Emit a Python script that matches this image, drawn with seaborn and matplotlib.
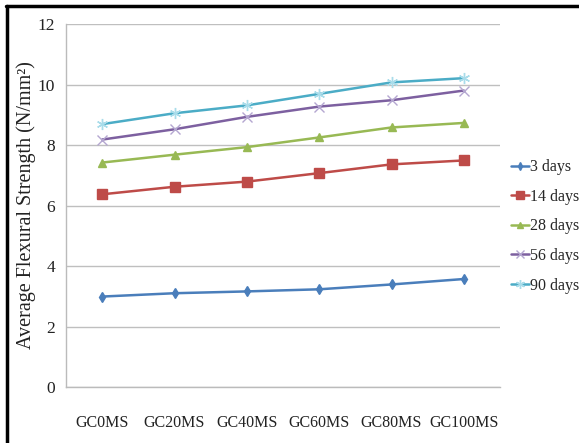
import matplotlib
matplotlib.use("Agg")
import matplotlib.pyplot as plt
from matplotlib.lines import Line2D
import numpy as np
import pandas as pd
import seaborn as sns

# Mix designs (share of manufactured sand)
mixes = ["GC0MS", "GC20MS", "GC40MS", "GC60MS", "GC80MS", "GC100MS"]

# Average flexural strength (N/mm²) per curing age
days_3 = [2.99, 3.10, 3.16, 3.23, 3.39, 3.57]
days_14 = [6.37, 6.62, 6.79, 7.07, 7.36, 7.49]
days_28 = [7.42, 7.68, 7.93, 8.25, 8.58, 8.73]
days_56 = [8.18, 8.52, 8.93, 9.27, 9.48, 9.80]
days_90 = [8.69, 9.05, 9.31, 9.69, 10.07, 10.21]

series_names = ["3 days", "14 days", "28 days", "56 days", "90 days"]
series_values = [days_3, days_14, days_28, days_56, days_90]

line_colors = ["#4A7EBB", "#BE4B48", "#98B954", "#7D60A0", "#4BACC6"]
marker_colors = ["#4A7EBB", "#BE4B48", "#98B954", "#B4A7D0", "#A9DCEA"]
markers = ["d", "s", "^", "x", (6, 2, 0)]
marker_sizes = [5, 7, 6, 7, 8]

rows = []
for name, vals in zip(series_names, series_values):
    for i, (m, v) in enumerate(zip(mixes, vals)):
        rows.append({"mix": m, "pos": i, "age": name, "strength": v})
df = pd.DataFrame(rows)

sns.set_style("white")
plt.rcParams["font.family"] = ["Liberation Serif", "DejaVu Serif"]

fig = plt.figure(figsize=(5.79, 4.43), dpi=100)
ax = fig.add_axes([0.114, 0.1264, 0.7496, 0.8194])

for name, lc, mc, mk, ms in zip(series_names, line_colors, marker_colors, markers, marker_sizes):
    sub = df[df["age"] == name]
    sns.lineplot(data=sub, x="pos", y="strength", ax=ax, color=lc, linewidth=1.8,
                 marker=mk, markersize=ms, markerfacecolor=mc, markeredgecolor=mc,
                 markeredgewidth=1.0, sort=False, legend=False)

ax.set_xlim(-0.5, 5.5)
ax.set_ylim(0, 12)
ax.set_yticks(np.arange(0, 13, 2))
ax.set_xticks(range(len(mixes)))
ax.set_xticklabels(mixes)
ax.set_xticks(np.arange(-0.5, 5.6, 1.0), minor=True)
ax.tick_params(axis="x", which="major", length=0, pad=20, labelsize=11.5, colors="#222222")
ax.tick_params(axis="x", which="minor", length=5, width=1.0, color="#BBBBBB", direction="out")
ax.tick_params(axis="y", which="major", length=5, width=1.0, color="#BBBBBB", direction="out",
               labelsize=12.5, colors="#222222", pad=3)
ax.yaxis.grid(True, color="#BFBFBF", linewidth=1.0)
ax.xaxis.grid(False)
ax.set_axisbelow(True)
for side in ["top", "right"]:
    ax.spines[side].set_visible(False)
for side in ["left", "bottom"]:
    ax.spines[side].set_color("#BBBBBB")
    ax.spines[side].set_linewidth(1.0)
ax.set_xlabel("")
ax.set_ylabel("Average Flexural Strength (N/mm²)", fontsize=14.5, color="#222222")
ax.yaxis.set_label_coords(-0.07, 0.5)

handles = [Line2D([0], [0], color=lc, linewidth=1.8, marker=mk, markersize=ms * 0.8,
                  markerfacecolor=mc, markeredgecolor=mc)
           for lc, mc, mk, ms in zip(line_colors, marker_colors, markers, marker_sizes)]
fig.legend(handles, series_names, loc="upper left", bbox_to_anchor=(0.872, 0.655),
           frameon=False, fontsize=11.5, handlelength=1.1, handletextpad=0.1,
           labelspacing=0.85, borderaxespad=0)

# Frame along the left and top edges of the figure
fig.add_artist(Line2D([0.0128, 0.0128], [0.0, 0.9865], transform=fig.transFigure,
                      color="black", linewidth=2.5))
fig.add_artist(Line2D([0.0105, 1.0], [0.9865, 0.9865], transform=fig.transFigure,
                      color="black", linewidth=2.5))

fig.savefig("out.png", dpi=100)
